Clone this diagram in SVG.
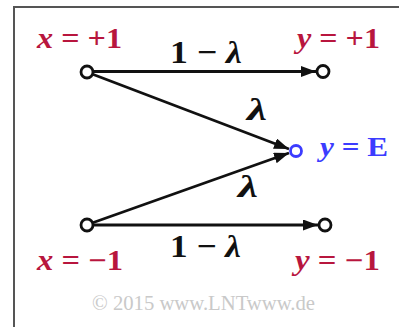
<svg xmlns="http://www.w3.org/2000/svg" width="399" height="327" viewBox="0 0 399 327">
<style>
.lbl{font-family:"Liberation Serif","Times New Roman",serif;font-weight:bold;font-size:29px}
.big{font-size:32px}
.mid{font-size:28px}
.red{fill:#b8163e}
.blue{fill:#3c3cff}
.blk{fill:#111}
.it{font-style:italic}
.edge{stroke:#111;stroke-width:2.8;fill:none}
.port{fill:#fff;stroke:#111;stroke-width:2.8}
.copy{font-family:"Liberation Serif","Times New Roman",serif;font-size:20px;fill:#c9c9c9}
</style>
<defs>
<marker id="arr" viewBox="0 0 15 11" refX="15" refY="5.5" markerWidth="15" markerHeight="11" markerUnits="userSpaceOnUse" orient="auto">
<path d="M0,0 L15,5.5 L0,11 Z" fill="#111"/>
</marker>
</defs>
<rect width="399" height="327" fill="#fff"/>
<path d="M14,327 V7 H399" fill="none" stroke="#555" stroke-width="2"/>
<g id="connectors">
<line class="edge" x1="93" y1="71.5" x2="316" y2="71.5" marker-end="url(#arr)"/>
<line class="edge" x1="92" y1="74" x2="289" y2="149" marker-end="url(#arr)"/>
<line class="edge" x1="92" y1="223" x2="289" y2="153" marker-end="url(#arr)"/>
<line class="edge" x1="93" y1="225" x2="318" y2="225" marker-end="url(#arr)"/>
<text class="lbl big blk" x="170" y="63" textLength="72" lengthAdjust="spacingAndGlyphs">1 − <tspan class="it">λ</tspan></text>
<text class="lbl big blk it" x="247" y="120" textLength="20" lengthAdjust="spacingAndGlyphs">λ</text>
<text class="lbl big blk it" x="238" y="197" textLength="20" lengthAdjust="spacingAndGlyphs">λ</text>
<text class="lbl big blk" x="170" y="257" textLength="71" lengthAdjust="spacingAndGlyphs">1 − <tspan class="it">λ</tspan></text>
</g>
<g id="node-x-plus">
<circle class="port" cx="87" cy="72" r="6"/>
<text class="lbl red" x="37" y="48" textLength="85" lengthAdjust="spacingAndGlyphs"><tspan class="it">x</tspan> = +1</text>
</g>
<g id="node-x-minus">
<circle class="port" cx="87" cy="225" r="6"/>
<text class="lbl red" x="37" y="270" textLength="86" lengthAdjust="spacingAndGlyphs"><tspan class="it">x</tspan> = −1</text>
</g>
<g id="node-y-plus">
<circle class="port" cx="323" cy="71.5" r="6"/>
<text class="lbl red" x="297" y="48" textLength="83" lengthAdjust="spacingAndGlyphs"><tspan class="it">y</tspan> = +1</text>
</g>
<g id="node-y-E">
<circle class="port" cx="296" cy="151" r="5.5" style="stroke:#3c3cff"/>
<text class="lbl mid blue" x="320" y="156" textLength="68" lengthAdjust="spacingAndGlyphs"><tspan class="it">y</tspan> = E</text>
</g>
<g id="node-y-minus">
<circle class="port" cx="325" cy="225" r="6"/>
<text class="lbl red" x="295" y="270" textLength="85" lengthAdjust="spacingAndGlyphs"><tspan class="it">y</tspan> = −1</text>
</g>
<text class="copy" x="92" y="310" textLength="223" lengthAdjust="spacingAndGlyphs">© 2015 www.LNTwww.de</text>
</svg>
